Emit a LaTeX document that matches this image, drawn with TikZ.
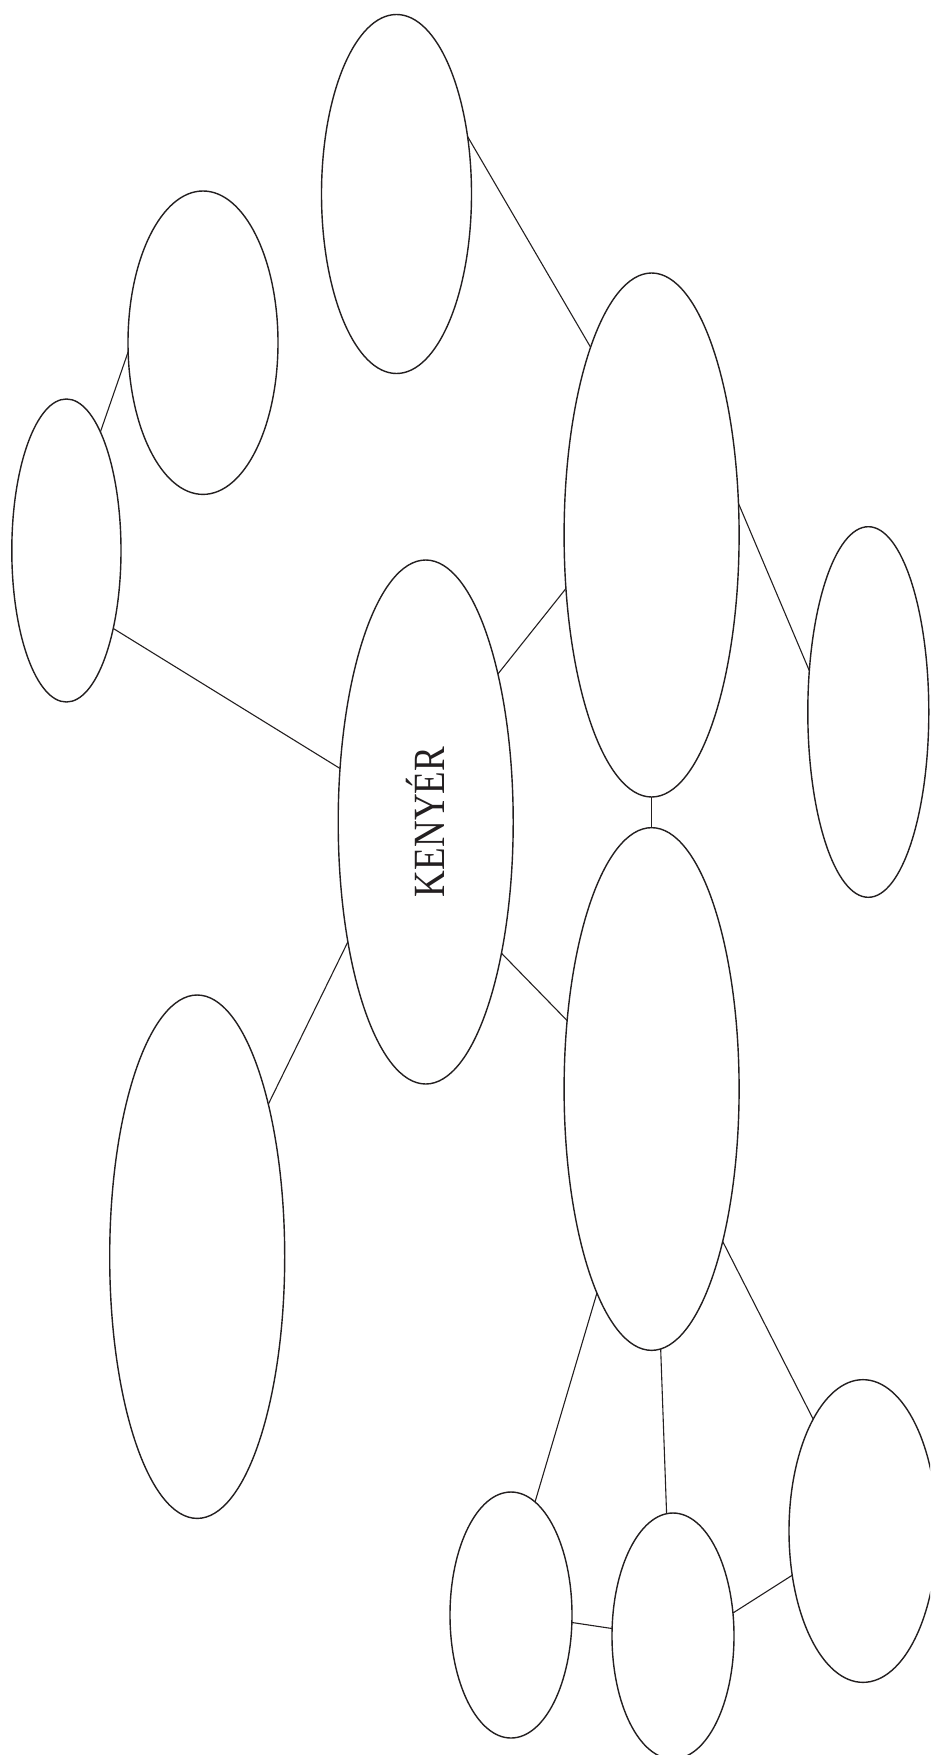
\documentclass[tikz,border=0pt]{standalone}
\usepackage{fontspec}
\setmainfont{Liberation Serif}
\usetikzlibrary{shapes.geometric}
\definecolor{ink}{HTML}{231F20}
\begin{document}
\begin{tikzpicture}[x=1pt,y=-1pt,
  bub/.style={draw=ink, line width=1.4pt, ellipse, inner sep=0pt, outer sep=0pt, text=ink},
  link/.style={draw=ink, line width=1.1pt}]
\useasboundingbox (0,0) rectangle (930,1755);
\fill[white] (0,0) rectangle (930,1755);
\clip (0,0) rectangle (930,1755);
\node[bub, minimum width=150pt, minimum height=359pt] (e1) at (396.5,194) {};
\node[bub, minimum width=150pt, minimum height=303.4pt] (e2) at (203,342.7) {};
\node[bub, minimum width=109.2pt, minimum height=303pt] (e3) at (66.4,550.5) {};
\node[bub, minimum width=175pt, minimum height=524pt] (e4) at (651.6,535) {};
\node[bub, minimum width=121pt, minimum height=370.6pt] (e5) at (868.3,712) {};
\node[bub, minimum width=175pt, minimum height=524pt] (e6) at (425.7,822)
  {\rotatebox{90}{\scalebox{0.83}[1]{\fontsize{44.6}{44.6}\selectfont KENYÉR}}};
\node[bub, minimum width=175pt, minimum height=522.7pt] (e7) at (651.6,1089) {};
\node[bub, minimum width=175pt, minimum height=523.4pt] (e8) at (197.2,1256.7) {};
\node[bub, minimum width=148pt, minimum height=302.7pt] (e9) at (863,1531) {};
\node[bub, minimum width=122pt, minimum height=246pt] (e10) at (511,1615) {};
\node[bub, minimum width=122pt, minimum height=246pt] (e11) at (673,1636) {};
\draw[link] (e1.39.1) -- (e4.108.9);
\draw[link] (e2.187.1) -- (e3.74.5);
\draw[link] (e3.301.5) -- (e6.148.4);
\draw[link] (e4.212.5) -- (e6.64.7);
\draw[link] (e4.20.8) -- (e5.145.7);
\draw[link] (e4.south) -- (e7.north);
\draw[link] (e6.300.4) -- (e7.141.4);
\draw[link] (e6.237.1) -- (e8.65.4);
\draw[link] (e7.255.9) -- (e10.78.6);
\draw[link] (e7.272.1) -- (e11.93);
\draw[link] (e7.295) -- (e9.114.7);
\draw[link] (e10.353.5) -- (e11.173.9);
\draw[link] (e11.21.5) -- (e9.212.8);
\end{tikzpicture}
\end{document}
